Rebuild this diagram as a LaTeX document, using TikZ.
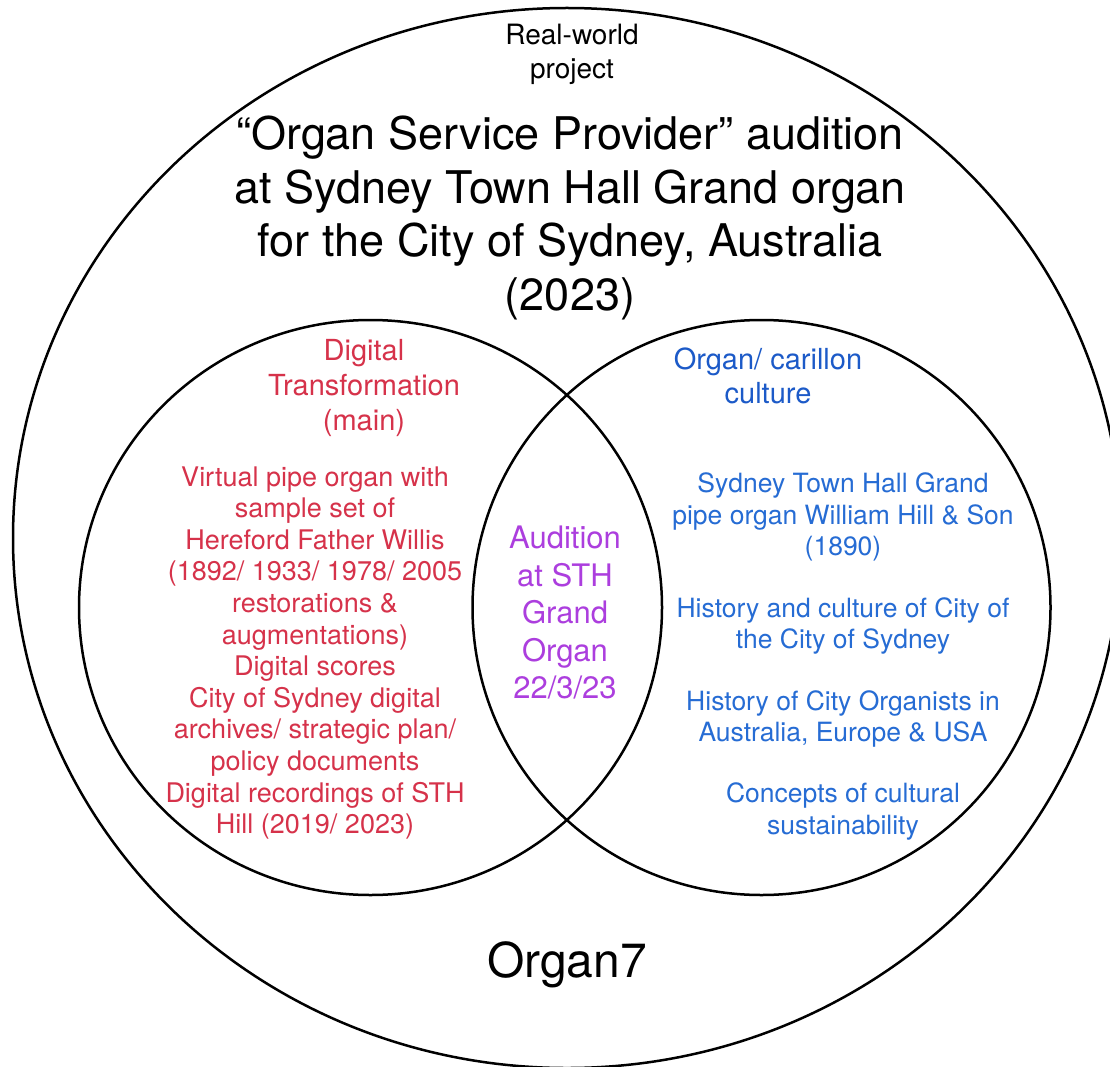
\documentclass[tikz,border=0pt]{standalone}
\usepackage{fontspec}
\setmainfont{TeX Gyre Heros}
\usetikzlibrary{shapes.geometric}
\definecolor{vred}{RGB}{214,50,74}
\definecolor{vblue}{RGB}{38,108,212}
\definecolor{vblued}{RGB}{28,90,200}
\definecolor{vpurple}{RGB}{172,62,222}
\tikzset{
  venn/.style={draw=black, line width=2.5pt, ellipse, inner sep=0pt, outer sep=0pt},
  txt/.style={align=center, inner sep=0pt},
  redtxt/.style={txt, text=vred, font=\fontsize{27}{31.6}\selectfont},
  redhead/.style={txt, text=vred, font=\fontsize{29}{35}\selectfont},
  bluetxt/.style={txt, text=vblue, font=\fontsize{26.5}{31.4}\selectfont},
  bluehead/.style={txt, text=vblued, font=\fontsize{29}{34.6}\selectfont},
  purptxt/.style={txt, text=vpurple, font=\fontsize{31}{37.5}\selectfont},
}
\begin{document}
\begin{tikzpicture}[x=1pt,y=-1pt]
\fill[white] (0,0) rectangle (1110,1067);
\useasboundingbox (0,0) rectangle (1110,1067);
\clip (0,0) rectangle (1110,1067);
% circles
\node[venn, minimum width=1108pt, minimum height=1060pt] (outer) at (567,538) {};
\node[venn, minimum width=583pt, minimum height=575pt] (left) at (370.5,607.5) {};
\node[venn, minimum width=578pt, minimum height=575pt] (right) at (761.5,607.5) {};
% outer texts
\node[txt, font=\fontsize{28}{34}\selectfont] (rw) at (572,54) {Real-world\\project};
\node[txt, font=\fontsize{45}{53.7}\selectfont] (title) at (570,218) {“Organ Service Provider” audition\\at Sydney Town Hall Grand organ\\for the City of Sydney, Australia\\(2023)};
\node[txt, font=\fontsize{48}{56}\selectfont] (org7) at (567,965) {Organ7};
% left circle
\node[redhead] (dt) at (364,388) {Digital\\Transformation\\(main)};
\node[redtxt] (dtbody) at (315,653) {Virtual pipe organ with\\sample set of\\Hereford Father Willis\\(1892/ 1933/ 1978/ 2005\\restorations \&\\augmentations)\\Digital scores\\City of Sydney digital\\archives/ strategic plan/\\policy documents\\Digital recordings of STH\\Hill (2019/ 2023)};
% middle
\node[purptxt] (aud) at (565,613) {Audition\\at STH\\Grand\\Organ\\22/3/23};
% right circle
\node[bluehead] (oc) at (768,376) {Organ/ carillon\\culture};
\node[bluetxt] (b1) at (843,517) {Sydney Town Hall Grand\\pipe organ William Hill \& Son\\(1890)};
\node[bluetxt] (b2) at (843,626) {History and culture of City of\\the City of Sydney};
\node[bluetxt] (b3) at (843,719) {History of City Organists in\\Australia, Europe \& USA};
\node[bluetxt] (b4) at (843,811.5) {Concepts of cultural\\sustainability};
\end{tikzpicture}
\end{document}
